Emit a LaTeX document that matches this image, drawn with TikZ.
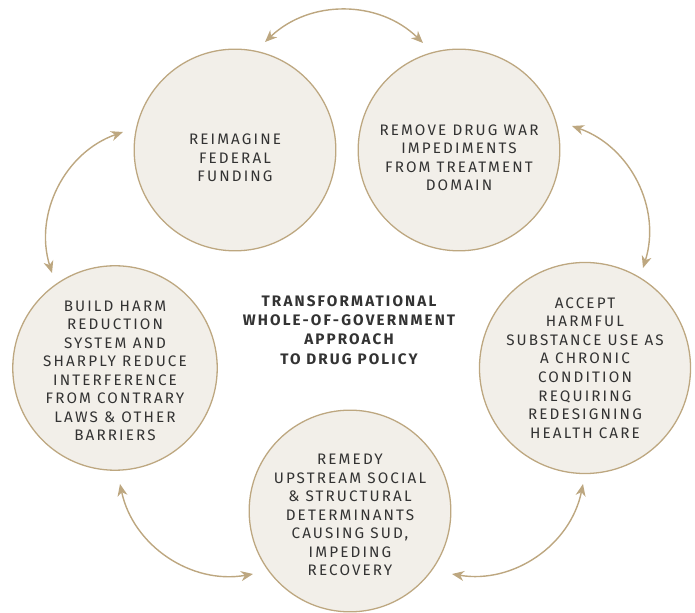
\documentclass[tikz,border=0pt]{standalone}
\usepackage{fontspec}
\setmainfont{Fira Sans}[LetterSpace=14]
\usepackage{tikz}
\usetikzlibrary{arrows.meta,positioning}
\usepackage{xcolor}
\definecolor{PolicyTan}{RGB}{189,167,128}
\definecolor{PolicyCream}{RGB}{242,239,233}
\definecolor{PolicyInk}{RGB}{51,51,51}
% extra height on a first line pushes the text down inside its circle
\newcommand{\lowerby}[1]{\rule{0pt}{#1}}

\begin{document}
\begin{tikzpicture}[x=0.03cm,y=0.03cm,
  goal/.style={circle,draw=PolicyTan,fill=PolicyCream,line width=1.1pt,
              minimum size=6.05cm,inner sep=0pt,align=center,text=PolicyInk,
              font=\fontsize{13}{15.8}\selectfont},
  link/.style={{Stealth[length=3.6mm,width=3mm,inset=1.1mm]}-{Stealth[length=3.6mm,width=3mm,inset=1.1mm]},
              line width=1.2pt,PolicyTan,bend left=44},
]
\useasboundingbox (0,0) rectangle (695,613);
\node[goal] (fund) at (235,463)
  {\lowerby{23pt}REIMAGINE\\FEDERAL\\FUNDING};
\node[goal] (remove) at (459,463)
  {\lowerby{22pt}REMOVE DRUG WAR\\IMPEDIMENTS\\FROM TREATMENT\\DOMAIN};
\node[goal] (accept) at (585,245)
  {ACCEPT\\HARMFUL\\SUBSTANCE USE AS\\A CHRONIC\\CONDITION\\REQUIRING\\REDESIGNING\\HEALTH CARE};
\node[goal] (remedy) at (350,102)
  {\lowerby{16pt}REMEDY\\UPSTREAM SOCIAL\\\& STRUCTURAL\\DETERMINANTS\\CAUSING SUD,\\IMPEDING\\RECOVERY};
\node[goal] (build) at (115,245)
  {\lowerby{14pt}BUILD HARM\\REDUCTION\\SYSTEM AND\\SHARPLY REDUCE\\INTERFERENCE\\FROM CONTRARY\\LAWS \& OTHER\\BARRIERS};
\node[font=\fontsize{13}{16.4}\selectfont\bfseries,text=PolicyInk,align=center] (core) at (349,283)
  {TRANSFORMATIONAL\\WHOLE-OF-GOVERNMENT\\APPROACH\\TO DRUG POLICY};
% arrow ends sit just off the circles
\coordinate (a1) at (265,571);
\coordinate (a2) at (423,570);
\coordinate (b1) at (572,487);
\coordinate (b2) at (643,345);
\coordinate (c1) at (583,129);
\coordinate (c2) at (452,39);
\coordinate (d1) at (253,39);
\coordinate (d2) at (120,129);
\coordinate (e1) at (52,340);
\coordinate (e2) at (123,481);
\draw[link] (a1) to (a2);
\draw[link] (b1) to (b2);
\draw[link] (c1) to (c2);
\draw[link] (d1) to (d2);
\draw[link] (e1) to (e2);
\end{tikzpicture}
\end{document}
